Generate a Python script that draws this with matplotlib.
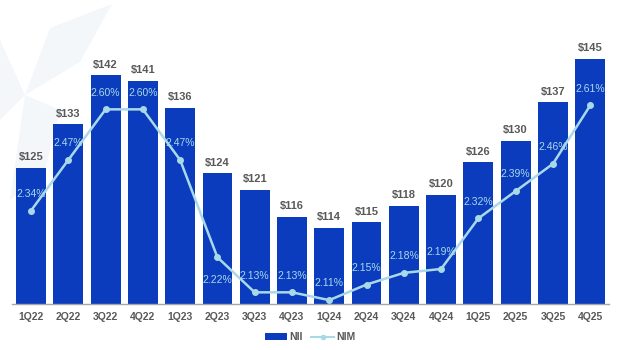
import matplotlib
matplotlib.use("Agg")
import matplotlib.pyplot as plt
from matplotlib.patches import Polygon
from matplotlib.lines import Line2D
from matplotlib.patches import Patch

plt.rcParams['font.family'] = ['Liberation Sans', 'DejaVu Sans']

quarters = ["1Q22", "2Q22", "3Q22", "4Q22", "1Q23", "2Q23", "3Q23", "4Q23",
            "1Q24", "2Q24", "3Q24", "4Q24", "1Q25", "2Q25", "3Q25", "4Q25"]
nii = [125, 133, 142, 141, 136, 124, 121, 116, 114, 115, 118, 120, 126, 130, 137, 145]
nim = [2.34, 2.47, 2.60, 2.60, 2.47, 2.22, 2.13, 2.13, 2.11, 2.15, 2.18, 2.19, 2.32, 2.39, 2.46, 2.61]
nim_below = [False, False, False, False, False, True, False, False,
             False, False, False, False, False, False, False, False]

bar_color = "#0A3CBD"
line_color = "#A9D9E8"
text_gray = "#595959"

fig = plt.figure(figsize=(6.2, 3.5), dpi=100)

# faint decorative shape in the top-left background
W, H = 620, 350
def px(pts):
    return [(x / W, 1 - y / H) for x, y in pts]
deco = "#F3F7FA"
for pts in [
    [(25, 95), (50, 28), (112, 4), (80, 62)],
    [(25, 95), (0, 40), (0, 120)],
    [(25, 95), (60, 110), (45, 170), (10, 200)],
]:
    fig.add_artist(Polygon(px(pts), closed=True, transform=fig.transFigure,
                           facecolor=deco, edgecolor="none", zorder=0))

ax = fig.add_axes([0.02, 0.1314, 0.962, 0.7786])
ax.set_facecolor("none")
x = list(range(len(quarters)))
ax.bar(x, nii, width=0.8, color=bar_color, zorder=2)
ax.set_ylim(100, 150)
ax.set_xlim(-0.5, 15.5)
for xi, v in zip(x, nii):
    ax.annotate(f"${v}", (xi, v), xytext=(0, 4), textcoords="offset points",
                ha="center", va="bottom", fontsize=8, fontweight="bold", color=text_gray)
ax.set_xticks(x)
ax.set_xticklabels(quarters, fontsize=7.5, color=text_gray, fontweight="bold")
ax.tick_params(axis="x", length=0, pad=6)
ax.set_yticks([])
for s in ["top", "right", "left"]:
    ax.spines[s].set_visible(False)
ax.spines["bottom"].set_color("#A6A6A6")
ax.spines["bottom"].set_linewidth(1.0)

ax2 = ax.twinx()
ax2.set_ylim(2.10, 2.80)
ax2.plot(x, nim, color=line_color, lw=1.8, marker="o", markersize=4, zorder=3)
for xi, v, below in zip(x, nim, nim_below):
    off = -16 if below else 12
    ax2.annotate(f"{v:.2f}%", (xi, v), xytext=(0, off), textcoords="offset points",
                 ha="center", va="center", fontsize=7.5, color=line_color)
ax2.set_yticks([])
for s in ["top", "right", "left", "bottom"]:
    ax2.spines[s].set_visible(False)

handles = [Patch(facecolor=bar_color, label="NII"),
           Line2D([0], [0], color=line_color, marker="o", markersize=3, lw=1.5, label="NIM")]
leg = fig.legend(handles=handles, loc="center", bbox_to_anchor=(0.5, 1 - 337 / 350),
                 ncol=2, frameon=False, fontsize=7.5, handlelength=2.2,
                 handleheight=0.6, columnspacing=0.8, handletextpad=0.2)
for t in leg.get_texts():
    t.set_color(text_gray)
    t.set_fontweight("bold")

fig.savefig("out.png", dpi=100)
